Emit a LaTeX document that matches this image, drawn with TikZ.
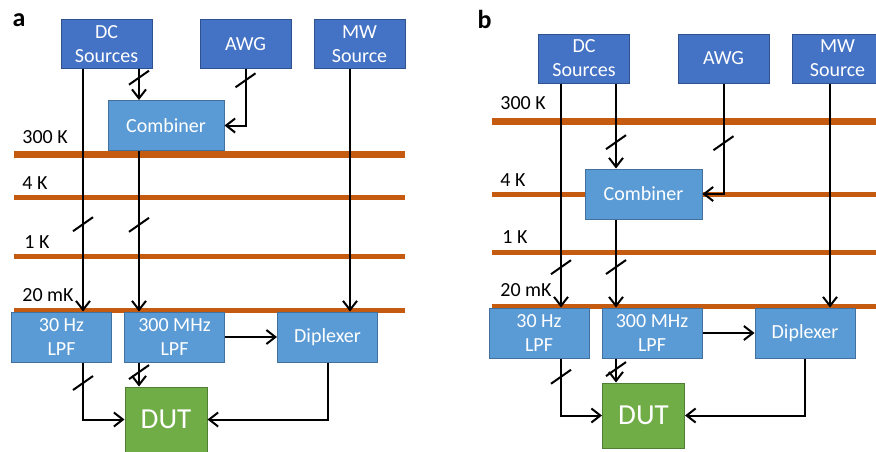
\documentclass[tikz,border=0pt]{standalone}
\usepackage{fontspec}
\setmainfont{Carlito}
\usepackage{xcolor}
\usetikzlibrary{arrows.meta}
\definecolor{srcblue}{HTML}{4472C4}
\definecolor{srcedge}{HTML}{2F528F}
\definecolor{modblue}{HTML}{5B9BD5}
\definecolor{modedge}{HTML}{41719C}
\definecolor{dutgreen}{HTML}{70AD47}
\definecolor{dutedge}{HTML}{507E32}
\definecolor{stageorange}{HTML}{C55A11}

\begin{document}
\begin{tikzpicture}[
    x=0.5pt, y=-0.5pt,
    source/.style={rectangle, draw=srcedge, fill=srcblue, line width=0.5pt, text=white, align=center, inner sep=0pt, minimum width=45.5pt, minimum height=24.5pt, font=\fontsize{10}{12}\selectfont},
    module/.style={rectangle, draw=modedge, fill=modblue, line width=0.5pt, text=white, align=center, inner sep=0pt, minimum width=50pt, minimum height=25pt, font=\fontsize{10}{12}\selectfont},
    dut/.style={rectangle, draw=dutedge, fill=dutgreen, line width=0.5pt, text=white, inner sep=0pt, minimum width=41pt, minimum height=32.5pt, font=\fontsize{14.5}{17}\selectfont},
    stage/.style={line width=2.5pt, color=stageorange},
    templabel/.style={anchor=west, inner sep=0pt, font=\fontsize{10}{12}\selectfont},
    panel/.style={inner sep=0pt, font=\bfseries\fontsize{13}{15}\selectfont},
    arrow/.style={-{Straight Barb[length=4.5pt, width=7pt]}, line width=1pt},
    bus/.pic={\draw[-, line width=1pt] (-5pt,-3.5pt) -- (5pt,3.5pt);},
]
\useasboundingbox (0,0) rectangle (876,451);
\clip (0,0) rectangle (876,451);

\draw[stage, line width=3.5pt] (14,154) -- (405,154);
\draw[stage] (14,197.5) -- (405,197.5);
\draw[stage] (14,256.5) -- (405,256.5);
\draw[stage] (14,310.5) -- (405,310.5);
\node[templabel] (k300A) at (22,137) {300 K};
\node[templabel] (k4A) at (22,183) {4 K};
\node[templabel] (k1A) at (24,242) {1 K};
\node[templabel] (mk20A) at (22,295) {20 mK};

\node[panel] (lblA) at (19,20) {a};
\node[source] (dcA) at (106.5,44) {DC\\Sources};
\node[source] (awgA) at (245.5,44) {AWG};
\node[source] (mwA) at (359.5,44) {MW\\Source};
\node[module, minimum width=58pt] (combA) at (166,125.5) {Combiner};
\node[module] (lpf30A) at (61.5,337) {30 Hz\\LPF};
\node[module] (lpf300A) at (174.5,337) {300 MHz\\LPF};
\node[module] (diplA) at (327.5,337) {Diplexer};
\node[dut] (dutA) at (166,419.5) {DUT};
\coordinate (tapA1) at (83,0);
\coordinate (tapA2) at (139,0);
\coordinate (tapA3) at (350,0);

\draw[arrow] (dcA.south -| tapA2) -- pic[pos=0.28]{bus} (combA.north -| tapA2);
\draw[arrow] (awgA.south) |- pic[pos=0.1]{bus} (combA.east);
\draw[arrow] (dcA.south -| tapA1) -- pic[pos=0.64]{bus} (lpf30A.north -| tapA1);
\draw[arrow] (combA.south -| tapA2) -- pic[pos=0.46]{bus} (lpf300A.north -| tapA2);
\draw[arrow] (mwA.south -| tapA3) -- (diplA.north -| tapA3);
\draw[arrow] (lpf300A) -- (diplA);
\draw[arrow] (lpf30A.south -| tapA1) |- pic[pos=0.18]{bus} (dutA.west);
\draw[arrow] (lpf300A.south -| tapA2) -- pic[pos=0.4]{bus} (dutA.north -| tapA2);
\draw[arrow] (diplA.south) |- (dutA.east);

\draw[stage, line width=3.5pt] (492,121) -- (880,121);
\draw[stage] (492,194) -- (880,194);
\draw[stage] (492,252.5) -- (880,252.5);
\draw[stage] (492,306.5) -- (880,306.5);
\node[templabel] (k300B) at (500,103) {300 K};
\node[templabel] (k4B) at (500,180) {4 K};
\node[templabel] (k1B) at (502,237) {1 K};
\node[templabel] (mk20B) at (500,290) {20 mK};

\node[panel] (lblB) at (484.5,19) {b};
\node[source] (dcB) at (584,58.5) {DC\\Sources};
\node[source] (awgB) at (723.5,58.5) {AWG};
\node[source] (mwB) at (837.5,58.5) {MW\\Source};
\node[module, minimum width=58.5pt] (combB) at (643.5,194) {Combiner};
\node[module] (lpf30B) at (539,333) {30 Hz\\LPF};
\node[module] (lpf300B) at (652,333) {300 MHz\\LPF};
\node[module] (diplB) at (805,333) {Diplexer};
\node[dut] (dutB) at (643.5,415.5) {DUT};
\coordinate (tapB1) at (561,0);
\coordinate (tapB2) at (616,0);
\coordinate (tapB3) at (830,0);

\draw[arrow] (dcB.south -| tapB2) -- pic[pos=0.69]{bus} (combB.north -| tapB2);
\draw[arrow] (awgB.south) |- pic[pos=0.27]{bus} (combB.east);
\draw[arrow] (dcB.south -| tapB1) -- pic[pos=0.82]{bus} (lpf30B.north -| tapB1);
\draw[arrow] (combB.south -| tapB2) -- pic[pos=0.54]{bus} (lpf300B.north -| tapB2);
\draw[arrow] (mwB.south -| tapB3) -- (diplB.north -| tapB3);
\draw[arrow] (lpf300B) -- (diplB);
\draw[arrow] (lpf30B.south -| tapB1) |- pic[pos=0.16]{bus} (dutB.west);
\draw[arrow] (lpf300B.south -| tapB2) -- pic[pos=0.44]{bus} (dutB.north -| tapB2);
\draw[arrow] (diplB.south) |- (dutB.east);
\end{tikzpicture}
\end{document}
